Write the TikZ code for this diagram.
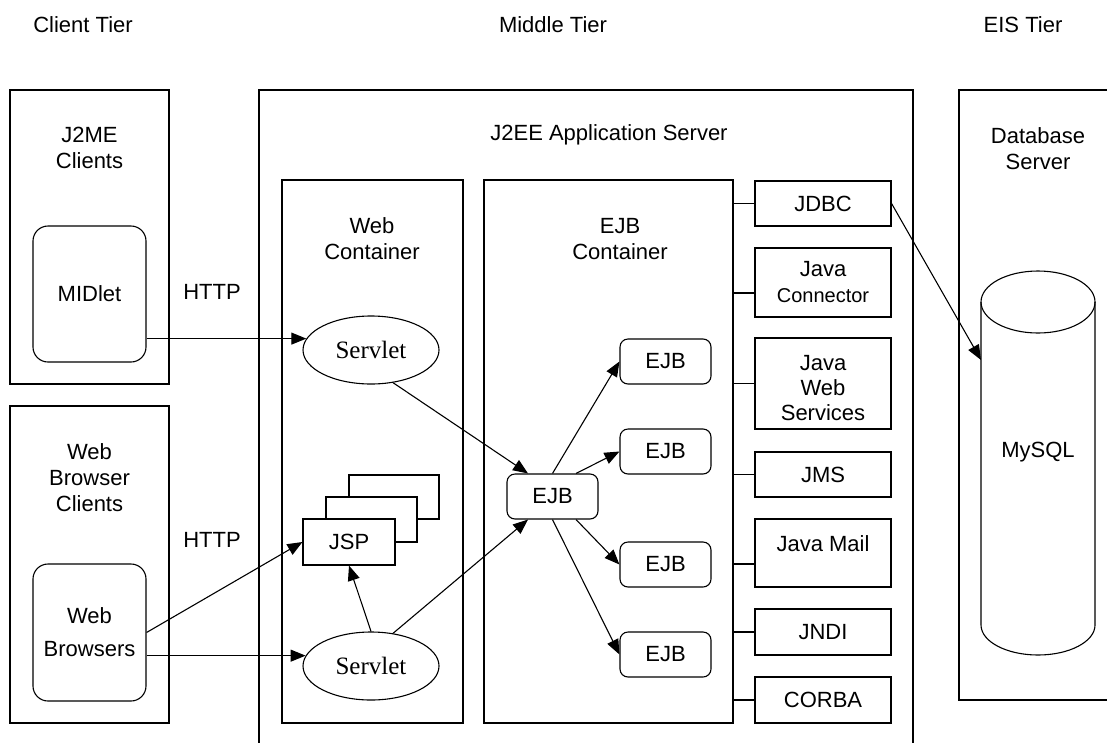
\documentclass[tikz,border=0pt]{standalone}
\usepackage{fontspec}
\setmainfont{Liberation Sans}
\newfontfamily\servfont{Liberation Serif}
\usetikzlibrary{arrows.meta,shapes.geometric}
\begin{document}
\begin{tikzpicture}[x=1pt,y=-1pt,
  every node/.style={font=\fontsize{22}{26}\selectfont},
  box/.style={draw, line width=1.1pt, inner sep=0pt},
  rbox/.style={box, rounded corners=15pt, align=center},
  ebox/.style={box, rounded corners=8pt, minimum width=91pt, minimum height=45pt},
  svc/.style={box, minimum width=136pt, align=center},
  lbl/.style={inner sep=0pt, align=center},
  sv/.style={box, ellipse, minimum width=136pt, minimum height=68pt, font=\servfont\fontsize{25}{30}\selectfont},
  arr/.style={line width=1.1pt, -{Triangle[length=15pt,width=12pt]}},
  link/.style={line width=1.1pt}]
\useasboundingbox (0,0) rectangle (1107,742);

% tier headings
\node[lbl] (tc) at (83,25) {Client Tier};
\node[lbl] (tm) at (553,25) {Middle Tier};
\node[lbl] (te) at (1023,25) {EIS Tier};

% client tier
\node[box, minimum width=159pt, minimum height=294pt] (j2me) at (89.5,237) {};
\node[lbl] (j2met) at (89.5,148) {J2ME\\Clients};
\node[rbox, minimum width=113pt, minimum height=136pt] (midlet) at (89.5,294) {MIDlet};
\node[box, minimum width=159pt, minimum height=317pt] (wbc) at (89.5,564.5) {};
\node[lbl] (wbct) at (89.5,477.5) {Web\\Browser\\Clients};
\node[rbox, minimum width=113pt, minimum height=137pt] (wb) at (89.5,632.5) {Web\\[7pt]Browsers};
\node[lbl] (http1) at (212,292) {HTTP};
\node[lbl] (http2) at (212,540) {HTTP};

% middle tier
\draw[link] (259,760) -- (259,90) -- (913,90) -- (913,760);
\node[lbl] (j2eet) at (609,135) {J2EE Application Server};
\node[box, minimum width=181pt, minimum height=543pt] (webc) at (372.5,451.5) {};
\node[lbl] (webct) at (372,239) {Web\\Container};
\node[box, minimum width=249pt, minimum height=543pt] (ejbcont) at (608.5,451.5) {};
\node[lbl] (ejbct) at (620,239) {EJB\\Container};

\node[sv] (sv1) at (371,350) {Servlet};
\node[sv] (sv2) at (371,666) {Servlet};
\node[box, fill=white, minimum width=90pt, minimum height=44pt] (jsp3) at (394,497) {};
\node[box, fill=white, minimum width=91pt, minimum height=45pt] (jsp2) at (371.5,519.5) {};
\node[box, fill=white, minimum width=92pt, minimum height=46pt] (jsp) at (349,542) {JSP};

\node[ebox] (ejbc) at (552.5,496.5) {EJB};
\node[ebox] (ejb1) at (665.5,361.5) {EJB};
\node[ebox] (ejb2) at (665.5,451.5) {EJB};
\node[ebox] (ejb3) at (665.5,564.5) {EJB};
\node[ebox] (ejb4) at (665.5,654.5) {EJB};

\node[svc, minimum height=45pt] (jdbc) at (823,203.5) {JDBC};
\node[svc, minimum height=69pt] (jconn) at (823,282.5) {Java\\{\fontsize{20}{24}\selectfont Connector}};
\node[svc, minimum height=91pt] (jws) at (823,383.5) {};
\node[lbl, font=\fontsize{22}{25}\selectfont] (jwst) at (823,388) {Java\\Web\\Services};
\node[svc, minimum height=45pt] (jms) at (823,474.5) {JMS};
\node[svc, minimum height=68pt] (jmail) at (823,553) {};
\node[lbl] (jmailt) at (823,544) {Java Mail};
\node[svc, minimum height=46pt] (jndi) at (823,632) {JNDI};
\node[svc, minimum height=46pt] (corba) at (823,700) {CORBA};

\draw[link] (ejbcont.east |- jdbc.west) -- (jdbc.west);
\draw[link] (ejbcont.east |- 0,293) -- (jconn.west |- 0,293);
\draw[link] (ejbcont.east |- jws.west) -- (jws.west);
\draw[link] (ejbcont.east |- jms.west) -- (jms.west);
\draw[link] (ejbcont.east |- 0,564) -- (jmail.west |- 0,564);
\draw[link] (ejbcont.east |- jndi.west) -- (jndi.west);
\draw[link] (ejbcont.east |- corba.west) -- (corba.west);

% EIS tier
\draw[link] (1120,90) -- (959,90) -- (959,700) -- (1120,700);
\node[lbl] (dbt) at (1038,148.5) {Database\\Server};
\draw[link] (981,302) -- (981,625) arc[start angle=180, end angle=360, x radius=57pt, y radius=30pt] -- (1095,302);
\draw[link] (1038,302) ellipse [x radius=57pt, y radius=31pt];
\node[lbl] (mysql) at (1038,452) {MySQL};
\coordinate (dbin) at (981,360);

% connectors
\draw[arr] (midlet.east |- sv1.170) -- (sv1.170);
\draw[arr] (wb.east) -- (jsp.west);
\draw[arr] (wb.east |- sv2.171) -- (sv2.171);
\draw[arr] (sv2.north) -- (jsp.south);
\draw[arr] (sv1.-56) -- ([xshift=-24.5pt]ejbc.north);
\draw[arr] (sv2.56) -- ([xshift=-24.5pt]ejbc.south);
\draw[arr] (ejbc.north) -- (ejb1.west);
\draw[arr] ([xshift=23.5pt]ejbc.north) -- (ejb2.west);
\draw[arr] ([xshift=23.5pt]ejbc.south) -- (ejb3.west);
\draw[arr] (ejbc.south) -- (ejb4.west);
\draw[arr] (jdbc.east) -- (dbin);
\end{tikzpicture}
\end{document}
